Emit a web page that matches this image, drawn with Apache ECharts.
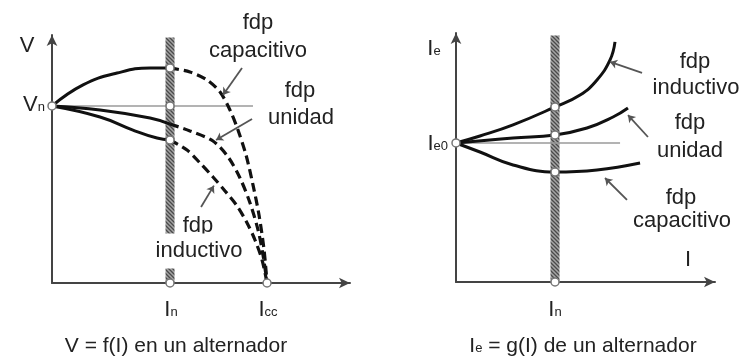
<!DOCTYPE html>
<html><head><meta charset="utf-8">
<script src="https://cdn.jsdelivr.net/npm/echarts@6/dist/echarts.min.js"></script>
<style>html,body{margin:0;padding:0;background:#fff}#c{width:744px;height:360px}</style>
</head><body><div id="c"></div>
<script>
// ===== Left chart: V = f(I)  (I in units of In, V in units of Vn) =====
const leftXMax = 2.525, leftYMax = 1.401;
const leftIn = 1.0, leftIcc = 1.822, leftVn = 1.0;
const vCapSolid   = [[0,1.0],[0.263,1.119],[0.551,1.186],[0.831,1.215],[1.0,1.215]];
const vUnitySolid = [[0,1.0],[0.407,0.977],[0.831,0.932],[1.0,0.898]];
const vIndSolid   = [[0,1.0],[0.407,0.938],[0.686,0.864],[0.89,0.819],[1.0,0.808]];
const vCapDash    = [[1.0,1.215],[1.169,1.192],[1.314,1.147],[1.424,1.079],[1.508,0.977],[1.576,0.864],[1.644,0.723],[1.703,0.554],[1.754,0.384],[1.797,0.186],[1.822,0]];
const vUnityDash  = [[1.0,0.898],[1.169,0.859],[1.364,0.802],[1.492,0.712],[1.593,0.593],[1.678,0.452],[1.746,0.299],[1.788,0.158],[1.822,0]];
const vIndDash    = [[1.0,0.808],[1.144,0.751],[1.254,0.678],[1.364,0.599],[1.466,0.520],[1.568,0.435],[1.653,0.339],[1.720,0.243],[1.780,0.130],[1.822,0]];
const vRefLine    = [[0,1.0],[1.703,1.0]];
const vMarkers    = [[0,1.0],[1.0,1.215],[1.0,1.0],[1.0,0.808],[1.0,0],[1.822,0]];
const vArrows     = [ [[1.610,1.215],[1.449,1.062]], [[1.695,0.927],[1.390,0.808]], [[1.263,0.429],[1.372,0.550]] ];

// ===== Right chart: Ie = g(I)  (I in units of In, Ie in units of Ie0) =====
const rightXMax = 2.616, rightYMax = 1.791;
const rightIn = 1.0;
const ieInd    = [[0,1.0],[0.242,1.05],[0.576,1.13],[1.0,1.259],[1.253,1.345],[1.424,1.453],[1.556,1.597],[1.606,1.727]];
const ieUnity  = [[0,1.0],[0.576,1.036],[1.0,1.058],[1.323,1.108],[1.586,1.187],[1.737,1.252]];
const ieCap    = [[0,1.0],[0.242,0.935],[0.576,0.842],[1.0,0.791],[1.424,0.806],[1.859,0.856]];
const ieRefLine = [[0,1.0],[1.657,1.0]];
const ieMarkers = [[0,1.0],[1.0,1.259],[1.0,1.058],[1.0,0.791],[1.0,0]];
const ieArrows  = [ [[1.879,1.504],[1.556,1.583]], [[1.939,1.043],[1.737,1.201]], [[1.727,0.590],[1.505,0.748]] ];

// ===== Texts =====
const leftTitle  = 'V = f(I) en un alternador';
const rightTitle = ' = g(I) de un alternador';
const lblCap = ['fdp','capacitivo'], lblUnity = ['fdp','unidad'], lblInd = ['fdp','inductivo'];

const FONT = '"Liberation Sans", Arial, sans-serif';
const TXT = '#222';

function hatchPattern(){
  const c = document.createElement('canvas'); c.width = 4; c.height = 4;
  const g = c.getContext('2d');
  g.fillStyle = '#a6a6a6'; g.fillRect(0,0,4,4);
  g.strokeStyle = '#4a4a4a'; g.lineWidth = 1.3;
  g.beginPath();
  g.moveTo(0,0); g.lineTo(4,4);
  g.moveTo(-2,2); g.lineTo(2,6);
  g.moveTo(2,-2); g.lineTo(6,2);
  g.stroke();
  return c;
}
const pattern = {image: hatchPattern(), repeat: 'repeat'};

function axisPair(idx, xmax, ymax){
  const line = {show:true, symbol:['none','arrow'], symbolSize:[8,11], lineStyle:{color:'#444', width:2}};
  return {
    x: {type:'value', gridIndex:idx, min:0, max:xmax, axisLine:line, axisTick:{show:false}, axisLabel:{show:false}, splitLine:{show:false}},
    y: {type:'value', gridIndex:idx, min:0, max:ymax, axisLine:line, axisTick:{show:false}, axisLabel:{show:false}, splitLine:{show:false}}
  };
}
const L = axisPair(0, leftXMax, leftYMax), R = axisPair(1, rightXMax, rightYMax);

function curve(idx, data, dashed){
  return {type:'line', xAxisIndex:idx, yAxisIndex:idx, data, symbol:'none', smooth:dashed?0.3:0.45, z:3,
    lineStyle:{color:'#111', width:dashed?3.2:3, type:dashed?[9,5]:'solid', cap:'butt'}, silent:true};
}
function refLine(idx, data){
  return {type:'line', xAxisIndex:idx, yAxisIndex:idx, data, symbol:'none', z:2,
    lineStyle:{color:'#9a9a9a', width:1.5}, silent:true};
}
function markers(idx, data){
  return {type:'scatter', xAxisIndex:idx, yAxisIndex:idx, data, symbol:'circle', symbolSize:8, z:6,
    itemStyle:{color:'#fff', borderColor:'#777', borderWidth:1.5, opacity:1}, silent:true};
}
function arrows(idx, list){
  return {type:'line', xAxisIndex:idx, yAxisIndex:idx, data:[], z:4, silent:true,
    markLine:{silent:true, symbol:['none','arrow'], symbolSize:7, label:{show:false},
      lineStyle:{color:'#555', width:1.8, type:'solid'},
      data: list.map(a => [{coord:a[0]},{coord:a[1]}])}};
}
function hatch(idx, xv, ymax){
  return {type:'custom', xAxisIndex:idx, yAxisIndex:idx, data:[[xv]], z:1, silent:true, clip:false,
    renderItem:(p, api) => {
      const top = api.coord([api.value(0), ymax*0.99]);
      const bot = api.coord([api.value(0), 0]);
      return {type:'rect', shape:{x:bot[0]-4.5, y:top[1], width:9, height:bot[1]-top[1]}, style:{fill:pattern}};
    }};
}

function txt(x, y, text, size, extra){
  return {type:'text', x, y, z:100, style:Object.assign({
    text, fill:TXT, font:size+'px '+FONT, textAlign:'center', align:'center',
    textVerticalAlign:'middle', verticalAlign:'middle'}, extra||{})};
}
function richSub(size){
  return {
    a:{fontSize:size, fontFamily:FONT, fill:TXT, color:TXT, lineHeight:22},
    s:{fontSize:13, fontFamily:FONT, fill:TXT, color:TXT, verticalAlign:'bottom', lineHeight:22, padding:[0,0,2,0]}
  };
}
function sub(x, y, main, s, align, rest){
  let t = '{a|'+main+'}{s|'+s+'}';
  if (rest) t += '{a|'+rest+'}';
  return txt(x, y, t, 22, {rich:richSub(22), textAlign:align||'center', align:align||'center'});
}

const graphics = [
  // left
  txt(27, 46, 'V', 22),
  sub(45, 105, 'V', 'n', 'right'),
  txt(258, 23, lblCap[0], 22), txt(258, 51, lblCap[1], 22),
  txt(300, 91, lblUnity[0], 22), txt(301, 118, lblUnity[1], 22),
  txt(198, 226, lblInd[0], 22), txt(199, 251, lblInd[1], 22, {backgroundColor:'#fff', padding:[6,0,7,0]}),
  sub(171, 310, 'I', 'n'),
  sub(268, 310, 'I', 'cc'),
  {type:'text', x:176, y:346, z:100, style:{text:leftTitle, fill:TXT, font:'21px '+FONT, textAlign:'center', align:'center', textVerticalAlign:'middle', verticalAlign:'middle'}},
  // right
  sub(434, 49, 'I', 'e'),
  sub(448, 144, 'I', 'e0', 'right'),
  txt(695, 62, lblInd[0], 22), txt(696, 88, lblInd[1], 22),
  txt(690, 123, lblUnity[0], 22), txt(690, 151, lblUnity[1], 22),
  txt(681, 198, lblCap[0], 22), txt(682, 221, lblCap[1], 22),
  txt(688, 260, 'I', 22),
  sub(555, 310, 'I', 'n'),
  {type:'text', x:583, y:346, z:100, style:{text:'{a|I}{s|e}{a|'+rightTitle+'}', font:'21px '+FONT, fill:TXT, textAlign:'center', align:'center', textVerticalAlign:'middle', verticalAlign:'middle',
    rich:richSub(21)}}
];

const chart = echarts.init(document.getElementById('c'), null, {renderer:'canvas'});
chart.setOption({
  animation:false,
  backgroundColor:'#fff',
  grid:[
    {left:52, top:35, width:298, height:248},
    {left:456, top:33, width:259, height:249}
  ],
  xAxis:[L.x, R.x],
  yAxis:[L.y, R.y],
  series:[
    hatch(0, leftIn, leftYMax),
    refLine(0, vRefLine),
    curve(0, vCapSolid, false), curve(0, vUnitySolid, false), curve(0, vIndSolid, false),
    curve(0, vCapDash, true), curve(0, vUnityDash, true), curve(0, vIndDash, true),
    arrows(0, vArrows),
    markers(0, vMarkers),
    hatch(1, rightIn, rightYMax),
    refLine(1, ieRefLine),
    curve(1, ieInd, false), curve(1, ieUnity, false), curve(1, ieCap, false),
    arrows(1, ieArrows),
    markers(1, ieMarkers)
  ],
  graphic: graphics
});
</script></body></html>
